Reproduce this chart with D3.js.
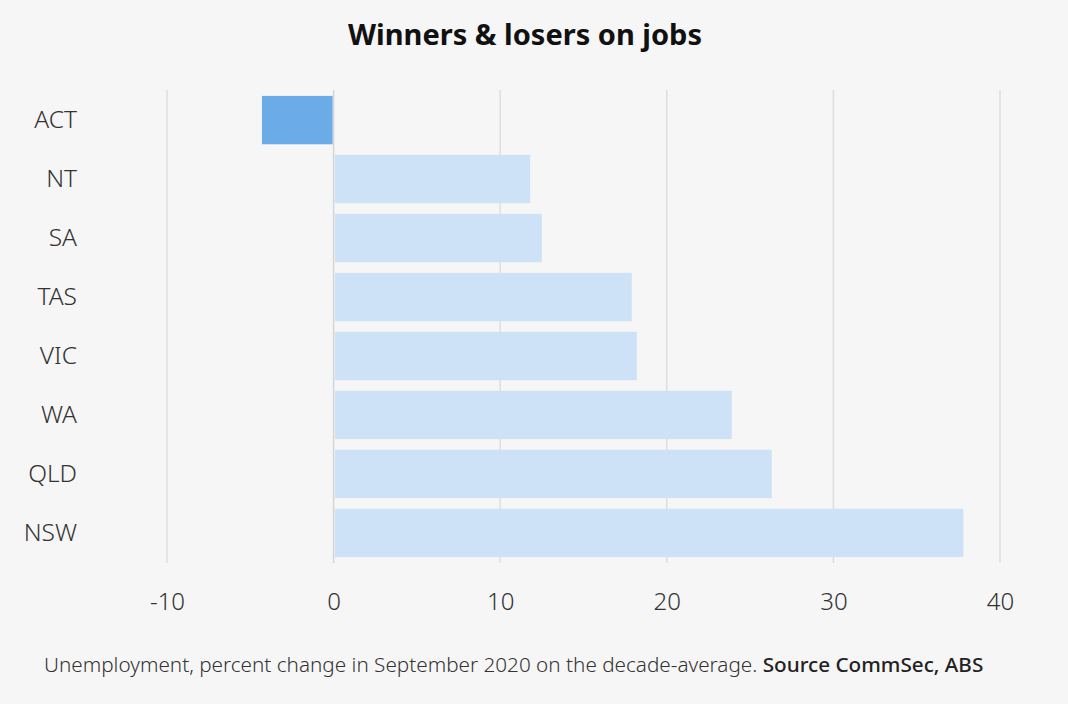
<!DOCTYPE html>
<html><head><meta charset="utf-8">
<script src="https://cdn.jsdelivr.net/npm/d3@7"></script>
<style>
html,body{margin:0;padding:0;background:#f6f6f6;}
svg{display:block;}
text{font-family:"Noto Sans","Open Sans",sans-serif;}
</style></head>
<body>
<svg id="c" width="1068" height="704"></svg>
<script>
const categories = ["ACT","NT","SA","TAS","VIC","WA","QLD","NSW"];
const values = [-4.3, 11.8, 12.5, 17.9, 18.2, 23.9, 26.3, 37.8];
const tickValues = [-10, 0, 10, 20, 30, 40];
const title = "Winners & losers on jobs";
const captionText = "Unemployment, percent change in September 2020 on the decade-average. ";
const captionSource = "Source CommSec, ABS";

const svg = d3.select("#c");
svg.append("rect").attr("width",1068).attr("height",704).attr("fill","#f6f6f6");

const x = d3.scaleLinear().domain([-10, 40]).range([167, 1000]);
const y = d3.scaleBand().domain(categories).range([90, 563]).paddingInner(0.18).paddingOuter(0.1);

// gridlines
svg.append("g").selectAll("line").data(tickValues).join("line")
  .attr("x1", d => x(d)).attr("x2", d => x(d))
  .attr("y1", 90).attr("y2", 563)
  .attr("stroke", d => d === 0 ? "#d4d4d4" : "#dedede").attr("stroke-width", 1.5);

// bars
svg.append("g").selectAll("rect").data(categories).join("rect")
  .attr("x", (d,i) => values[i] < 0 ? x(values[i]) : x(0) + 1.5)
  .attr("width", (d,i) => values[i] < 0 ? x(0) - x(values[i]) - 1 : x(values[i]) - x(0) - 1.5)
  .attr("y", d => y(d))
  .attr("height", y.bandwidth())
  .attr("fill", (d,i) => values[i] < 0 ? "#6aabe8" : "#cde2f6");

// x axis
const xAxis = d3.axisBottom(x).tickValues(tickValues).tickSize(0).tickPadding(0)
  .tickFormat(d => String(d));
const gx = svg.append("g").attr("transform","translate(0,593)").call(xAxis);
gx.select(".domain").remove();
gx.selectAll("text").attr("font-size", 24).attr("font-weight", 300).attr("fill","#333").attr("dy","0.71em")
  .style("font-family","'Noto Sans',sans-serif");

// y axis
const yAxis = d3.axisLeft(y).tickSize(0).tickPadding(0);
const gy = svg.append("g").attr("transform","translate(77,0)").call(yAxis);
gy.select(".domain").remove();
gy.selectAll("text").attr("font-size", 24.5).attr("font-weight", 300).attr("fill","#333")
  .style("font-family","'Noto Sans',sans-serif");

// title
svg.append("text").attr("x", 525).attr("y", 45).attr("text-anchor","middle")
  .attr("font-size", 29).attr("font-weight", "bold").attr("fill","#111").text(title);

// caption
const cap = svg.append("text").attr("x", 44).attr("y", 672).attr("font-size", 20.7).attr("font-weight", 300).attr("fill","#333");
cap.append("tspan").text(captionText);
cap.append("tspan").attr("font-weight","500").attr("fill","#222").text(captionSource);
</script>
</body></html>
